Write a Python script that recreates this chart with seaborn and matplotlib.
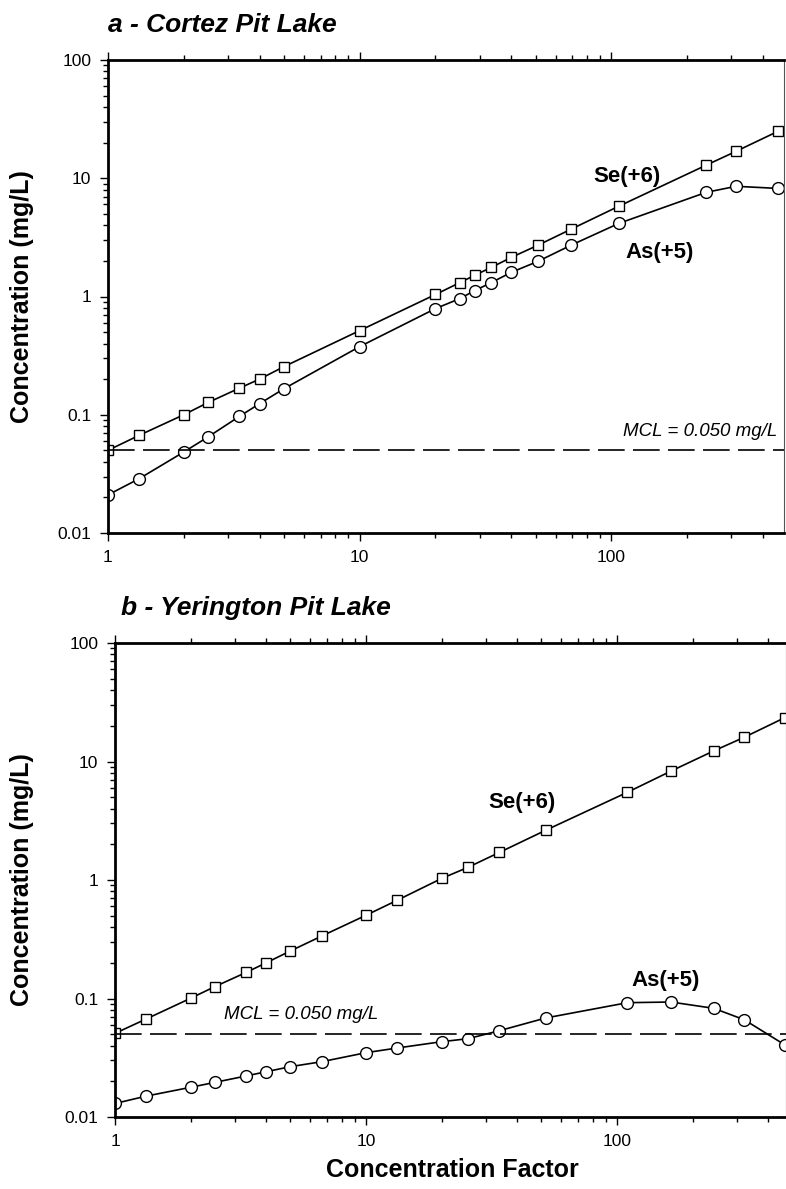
import numpy as np
import pandas as pd
import matplotlib
matplotlib.use("Agg")
import matplotlib.pyplot as plt
import seaborn as sns
from matplotlib.ticker import FixedLocator, LogLocator, NullFormatter

# ---- data ----
cf_a = [1, 1.33, 2, 2.5, 3.33, 4, 5, 10, 20, 25, 28.6, 33.3, 40, 51, 69, 107, 238, 313, 460]
se_a = [0.050, 0.067, 0.100, 0.127, 0.168, 0.20, 0.255, 0.515, 1.04, 1.31, 1.51, 1.76,
        2.14, 2.71, 3.7, 5.8, 12.9, 16.9, 25.0]
as_a = [0.021, 0.0288, 0.0484, 0.065, 0.097, 0.124, 0.166, 0.377, 0.79, 0.96, 1.12, 1.31,
        1.6, 1.98, 2.71, 4.15, 7.6, 8.55, 8.2]

cf_b = [1, 1.33, 2, 2.5, 3.33, 4, 5, 6.67, 10, 13.3, 20, 25.5, 34, 52, 110, 164, 243, 321, 467]
se_b = [0.0508, 0.0671, 0.1004, 0.126, 0.166, 0.20, 0.252, 0.337, 0.504, 0.674, 1.03, 1.28,
        1.71, 2.63, 5.5, 8.3, 12.3, 16.0, 23.5]
as_b = [0.0130, 0.0150, 0.0178, 0.0196, 0.0222, 0.0241, 0.0266, 0.0293, 0.0349, 0.0382,
        0.0432, 0.0458, 0.0535, 0.0685, 0.0922, 0.0934, 0.0826, 0.0662, 0.0405]

mcl = 0.050
titles = ["a - Cortez Pit Lake", "b - Yerington Pit Lake"]
y_ticks = [0.01, 0.1, 1, 10, 100]
y_tick_labels = ["0.01", "0.1", "1", "10", "100"]
x_ticks = [1, 10, 100]
x_tick_labels = ["1", "10", "100"]
ylabel = "Concentration (mg/L)"
xlabel = "Concentration Factor"

sns.set_style("ticks")
plt.rcParams['font.family'] = ['Liberation Sans', 'DejaVu Sans']
plt.rcParams['text.color'] = 'black'
plt.rcParams['axes.edgecolor'] = 'black'
plt.rcParams['xtick.color'] = 'black'
plt.rcParams['ytick.color'] = 'black'

fig = plt.figure(figsize=(7.86, 11.89), dpi=100)
W, H = 786, 1189

def px_axes(l, t, r, b):
    return fig.add_axes([l / W, 1 - b / H, (r - l) / W, (b - t) / H])

ax_a = px_axes(108, 60, 784, 533)
ax_b = px_axes(115, 643, 786, 1117)

def draw(ax, cf, se, ars, xmax, texts, title_xy, title):
    df = pd.DataFrame({"cf": cf, "se": se, "as": ars})
    sns.lineplot(data=df, x="cf", y="se", ax=ax, color="black", lw=1.2, sort=False,
                 estimator=None, marker="s", ms=7, mfc="white", mec="black", mew=1.0)
    sns.lineplot(data=df, x="cf", y="as", ax=ax, color="black", lw=1.2, sort=False,
                 estimator=None, marker="o", ms=8.5, mfc="white", mec="black", mew=1.0)
    ax.axhline(mcl, color="black", lw=1.2, dashes=(16, 5))
    ax.set_xscale("log")
    ax.set_yscale("log")
    ax.set_xlim(1, xmax)
    ax.set_ylim(0.01, 100)
    ax.xaxis.set_major_locator(FixedLocator(x_ticks))
    ax.set_xticklabels(x_tick_labels)
    ax.yaxis.set_major_locator(FixedLocator(y_ticks))
    ax.set_yticklabels(y_tick_labels)
    ax.xaxis.set_minor_locator(LogLocator(base=10, subs=np.arange(2, 10), numticks=20))
    ax.yaxis.set_minor_locator(LogLocator(base=10, subs=np.arange(2, 10), numticks=20))
    ax.xaxis.set_minor_formatter(NullFormatter())
    ax.yaxis.set_minor_formatter(NullFormatter())
    ax.tick_params(which="both", direction="out", top=True, right=False, width=1.0,
                   labelsize=12.5, colors="black", pad=6)
    ax.tick_params(which="major", length=6)
    ax.tick_params(which="minor", length=3.5)
    ax.set_xlabel("")
    ax.set_ylabel("")
    for s in ["left", "top", "bottom"]:
        ax.spines[s].set_linewidth(2.0)
        ax.spines[s].set_color("black")
    ax.spines["right"].set_linewidth(0.8)
    ax.spines["right"].set_color("#555555")
    for (tx, ty, s, kw) in texts:
        ax.text(tx, ty, s, **kw)
    fig.text(title_xy[0], title_xy[1], title, fontsize=19, fontweight="bold",
             fontstyle="italic", ha="left", va="center")

bold = dict(fontsize=16, fontweight="bold", ha="center", va="center")
mclkw = dict(fontsize=13.5, fontstyle="italic", va="center")

draw(ax_a, cf_a, se_a, as_a, 485,
     [(115, 10.4, "Se(+6)", bold), (155, 2.36, "As(+5)", bold),
      (456, 0.0718, "MCL = 0.050 mg/L", dict(mclkw, ha="right"))],
     (108 / W, 1 - 25 / H), titles[0])
draw(ax_b, cf_b, se_b, as_b, 471,
     [(41.8, 4.47, "Se(+6)", bold), (156.7, 0.1406, "As(+5)", bold),
      (2.72, 0.0726, "MCL = 0.050 mg/L", dict(mclkw, ha="left"))],
     (121 / W, 1 - 608 / H), titles[1])

for cy in [296.5, 880]:
    fig.text(22 / W, 1 - cy / H, ylabel, rotation=90, fontsize=18, fontweight="bold",
             ha="center", va="center")
fig.text(452 / W, 1 - 1170 / H, xlabel, fontsize=18, fontweight="bold",
         ha="center", va="center")

fig.savefig("out.png", dpi=100)
